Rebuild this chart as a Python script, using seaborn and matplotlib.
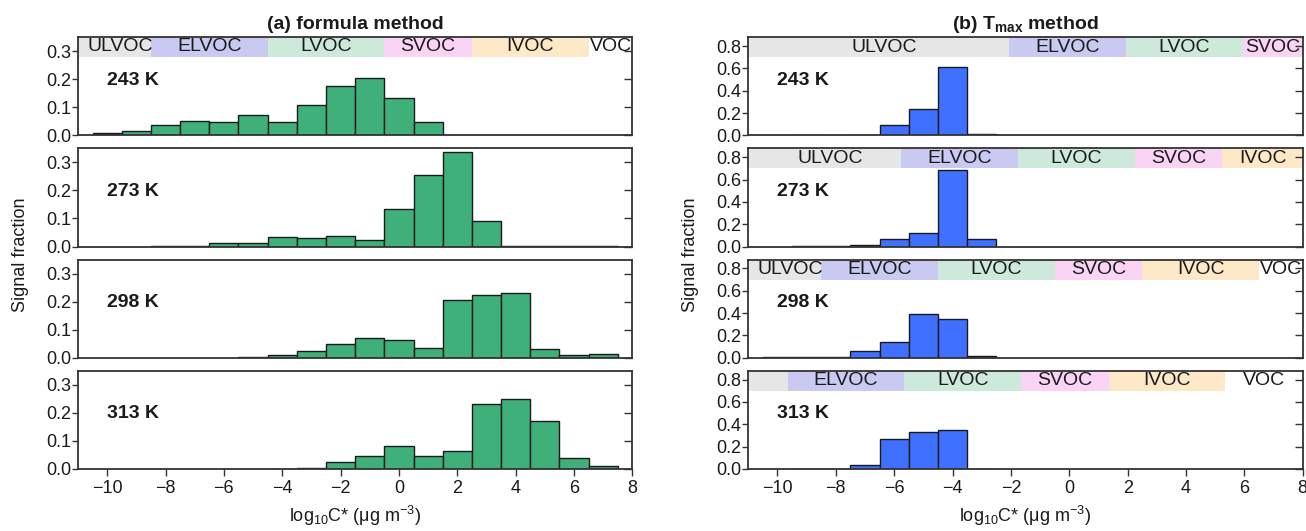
import numpy as np
import pandas as pd
import matplotlib
matplotlib.use('Agg')
import matplotlib.pyplot as plt
import seaborn as sns
from matplotlib.ticker import FormatStrFormatter

# bin centres (log10 C*) shared by every panel
log_c = np.arange(-10, 8)
temps = ['243 K', '273 K', '298 K', '313 K']

# (a) formula method, signal fraction per bin
formula_243 = [0.007, 0.017, 0.037, 0.052, 0.047, 0.071, 0.047, 0.109, 0.177, 0.206,
               0.132, 0.049, 0.001, 0.001, 0.001, 0.001, 0, 0]
formula_273 = [0, 0, 0.001, 0.001, 0.011, 0.014, 0.035, 0.030, 0.038, 0.022,
               0.135, 0.255, 0.337, 0.092, 0.001, 0.001, 0.001, 0.001]
formula_298 = [0, 0, 0, 0, 0, 0.001, 0.010, 0.023, 0.049, 0.071,
               0.063, 0.035, 0.205, 0.222, 0.229, 0.032, 0.009, 0.013]
formula_313 = [0, 0, 0, 0, 0, 0, 0.001, 0.004, 0.024, 0.045,
               0.080, 0.046, 0.065, 0.231, 0.250, 0.171, 0.039, 0.012]

# (b) Tmax method
tmax_243 = [0, 0.004, 0, 0.003, 0.094, 0.232, 0.609, 0.012, 0, 0,
            0, 0, 0, 0, 0, 0, 0, 0]
tmax_273 = [0, 0.002, 0.002, 0.015, 0.064, 0.124, 0.690, 0.064, 0, 0,
            0, 0, 0, 0, 0, 0, 0, 0]
tmax_298 = [0.003, 0.003, 0.003, 0.060, 0.145, 0.388, 0.348, 0.012, 0, 0,
            0, 0, 0, 0, 0, 0, 0, 0]
tmax_313 = [0, 0.002, 0.002, 0.036, 0.268, 0.331, 0.346, 0.003, 0, 0,
            0, 0, 0, 0, 0, 0, 0, 0]

# volatility classes at 298 K and their shift at each temperature
class_names = ['ULVOC', 'ELVOC', 'LVOC', 'SVOC', 'IVOC', 'VOC']
class_edges = [-8.5, -4.5, -0.5, 2.5, 6.5]
class_colors = ['#e6e6e6', '#c9c9f1', '#cde9dc', '#fbd4f5', '#fde9c8', '#ffffff']
tmax_shift = [6.45, 2.75, 0.0, -1.15]

sns.set_style('ticks')
plt.rcParams['font.family'] = ['Liberation Sans', 'DejaVu Sans']
plt.rcParams['mathtext.fontset'] = 'custom'
plt.rcParams['mathtext.rm'] = 'Liberation Sans'
plt.rcParams['mathtext.it'] = 'Liberation Sans:italic'
plt.rcParams['mathtext.bf'] = 'Liberation Sans:bold'
for key in ('text.color', 'axes.labelcolor', 'xtick.labelcolor', 'ytick.labelcolor'):
    plt.rcParams[key] = '#1a1a1a'

XMIN, XMAX = -11, 8
green = '#3fb079'
blue = '#4070ff'


def draw_bands(ax, shift, band_frac):
    edges = [XMIN] + [e + shift for e in class_edges] + [XMAX]
    for i, name in enumerate(class_names):
        lo, hi = max(edges[i], XMIN), min(edges[i + 1], XMAX)
        if hi <= lo:
            continue
        ax.axvspan(lo, hi, ymin=band_frac, ymax=1, color=class_colors[i], lw=0, zorder=0)
        # the shifted ULVOC strip at 313 K is too short for its label
        if hi - lo < 1.2 or (i == 0 and hi - lo < 2):
            continue
        xc = (max(lo, -10.6) + hi) / 2
        ax.text(xc, (band_frac + 1) / 2, name, transform=ax.get_xaxis_transform(),
                ha='center', va='center', fontsize=14, clip_on=True)


def draw_panel(ax, values, color, ymax, step):
    df = pd.DataFrame({'log_c': log_c, 'fraction': values})
    sns.histplot(data=df, x='log_c', weights='fraction', binwidth=1,
                 binrange=(log_c[0] - 0.5, log_c[-1] + 0.5), ax=ax, color=color,
                 edgecolor='#1a1a1a', linewidth=1.0, alpha=1)
    for p in ax.patches:
        p.set_zorder(2)
        if p.get_height() == 0:
            p.set_visible(False)
    ax.set_ylim(0, ymax)
    ax.set_yticks(np.arange(0, ymax - 0.01, step))
    ax.yaxis.set_major_formatter(FormatStrFormatter('%.1f'))
    ax.set_ylabel('')
    ax.set_xlabel('')


fig = plt.figure(figsize=(13.06, 5.31), dpi=100)
axes = fig.subplots(4, 2, sharex=True, gridspec_kw=dict(hspace=0.132, wspace=0.209))
fig.subplots_adjust(left=0.0597, right=0.9975, bottom=0.117, top=0.930)

formula_sets = [formula_243, formula_273, formula_298, formula_313]
tmax_sets = [tmax_243, tmax_273, tmax_298, tmax_313]

for r in range(4):
    axl, axr = axes[r, 0], axes[r, 1]
    draw_panel(axl, formula_sets[r], green, 0.35, 0.1)
    draw_panel(axr, tmax_sets[r], blue, 0.88, 0.2)
    if r == 0:
        draw_bands(axl, 0.0, 0.8)
    draw_bands(axr, tmax_shift[r], 0.795)
    for ax in (axl, axr):
        ax.text(-10, 0.56, temps[r], transform=ax.get_xaxis_transform(),
                ha='left', va='center', fontsize=14, fontweight='bold')
        ax.set_xlim(XMIN, XMAX)
        for s in ax.spines.values():
            s.set_visible(True)
            s.set_linewidth(1.3)
            s.set_color('#333333')
        ax.tick_params(axis='y', which='both', direction='out', length=4, width=1,
                       pad=1, labelsize=13, right=True, labelright=False, color='#333333')
        # inward ticks on the right spine
        for t in ax.yaxis.get_major_ticks():
            t.tick2line.set_marker(matplotlib.lines.TICKLEFT)
            t.tick2line.set_markersize(6)
        if r < 3:
            ax.tick_params(axis='x', length=0, labelbottom=False)
        else:
            ax.tick_params(axis='x', direction='out', length=5, width=1, pad=3,
                           labelsize=13, color='#333333')
            ax.set_xticks(np.arange(-10, 9, 2))
            ax.set_xlabel('log$_{10}$C* (μg m$^{-3}$)', fontsize=13, labelpad=5)

axes[0, 0].set_title('(a) formula method', fontsize=14, fontweight='bold', pad=6)
axes[0, 1].set_title('(b) T$_{\\mathbf{max}}$ method', fontsize=14, fontweight='bold', pad=6)

fig.text(0.016, 0.52, 'Signal fraction', rotation=90, ha='center', va='center', fontsize=13)
fig.text(0.529, 0.52, 'Signal fraction', rotation=90, ha='center', va='center', fontsize=13)

fig.savefig('out.png', dpi=100)
